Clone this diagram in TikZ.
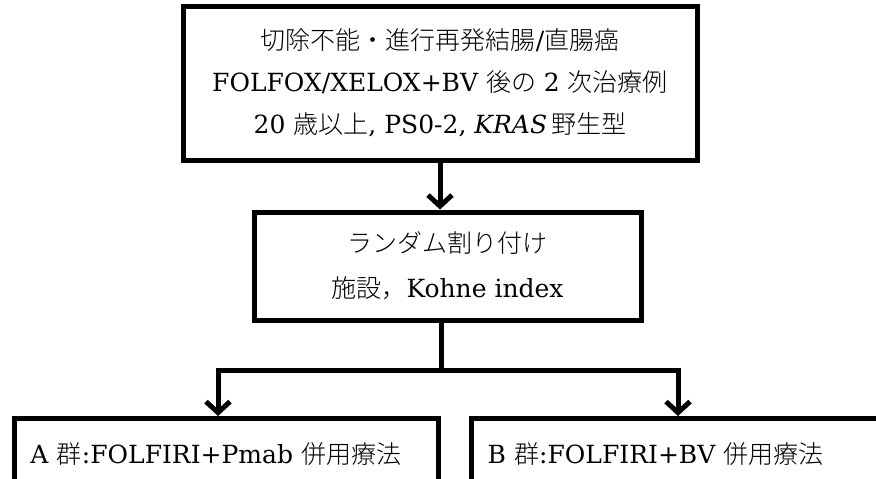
\documentclass[tikz,border=0pt]{standalone}
\usepackage{fontspec}
\setmainfont{DejaVu Serif}
\newfontfamily\cjk{Noto Sans CJK JP}[UprightFont={* Light}]
\newcommand{\jtxt}[1]{{\cjk #1}}
\usetikzlibrary{arrows.meta}
\begin{document}
\begin{tikzpicture}[x=1pt,y=-1pt,
  box/.style={draw, line width=5pt, rectangle, align=center, inner sep=0pt,
    font=\fontsize{25}{42}\selectfont},
  armbox/.style={draw, line width=5pt, rectangle, align=left, inner ysep=0pt, inner xsep=16pt,
    text width=392pt, text height=45pt, text depth=70pt, anchor=north west,
    font=\fontsize{25}{42}\selectfont},
  arr/.style={line width=5pt, line join=miter,
    {Straight Barb[length=11pt,width=24pt]}-{Straight Barb[length=11pt,width=24pt]}},
  arrone/.style={line width=5pt, -{Straight Barb[length=11pt,width=24pt]}}]
\useasboundingbox (0,0) rectangle (876,479);
\clip (0,0) rectangle (876,479);
\node[box, minimum width=514pt, minimum height=154pt] (elig) at (440,83)
  {\jtxt{切除不能・進行再発結腸}/\jtxt{直腸癌}\\
   FOLFOX/XELOX+BV \jtxt{後の} 2 \jtxt{次治療例}\\
   20 \jtxt{歳以上}, PS0-2, \textit{KRAS}\,\jtxt{野生型}};
\node[box, minimum width=387pt, minimum height=108pt, font=\fontsize{25}{45}\selectfont] (rand) at (447.5,266)
  {\jtxt{ランダム割り付け}\\
   \jtxt{施設，}Kohne index};
\node[armbox] (a) at (12,416) {A \jtxt{群}:FOLFIRI+Pmab \jtxt{併用療法}};
\node[armbox] (b) at (469,416) {B \jtxt{群}:FOLFIRI+BV \jtxt{併用療法}};
\coordinate (split) at (441,370);
\coordinate (la) at (218,370);
\coordinate (ra) at (678,370);
\draw[arrone] (elig.south) -- (elig.south |- rand.north);
\draw[line width=5pt] (split |- rand.south) -- (split);
\draw[arr] (la |- a.north) -- (la) -- (ra) -- (ra |- b.north);
\end{tikzpicture}
\end{document}
